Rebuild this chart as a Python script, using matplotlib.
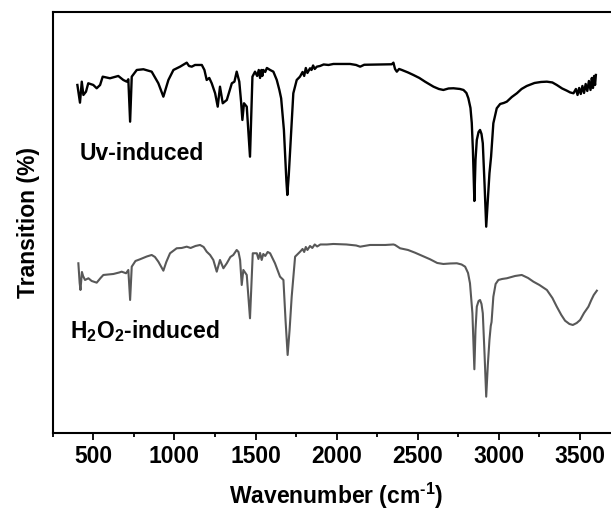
import matplotlib
matplotlib.use("Agg")
import matplotlib.pyplot as plt
from matplotlib.ticker import MultipleLocator

plt.rcParams['font.family'] = ['Liberation Sans', 'DejaVu Sans']
plt.rcParams['font.weight'] = 'bold'
plt.rcParams['mathtext.fontset'] = 'custom'
plt.rcParams['mathtext.rm'] = 'Liberation Sans:bold'
plt.rcParams['mathtext.it'] = 'Liberation Sans:bold'
plt.rcParams['mathtext.bf'] = 'Liberation Sans:bold'
plt.rcParams['mathtext.default'] = 'regular'

# ---- data: Uv-induced spectrum (wavenumber, transmission a.u.) ----
uv_wn = [402, 408, 418, 429, 439, 455, 469, 500, 521, 542, 558, 603, 654, 685, 706, 716,
         727, 737, 768, 809, 860, 901, 932, 963, 994, 1035, 1076, 1090, 1107, 1127, 1169,
         1185, 1199, 1215, 1230, 1251, 1267, 1281, 1298, 1323, 1354, 1370, 1384, 1400,
         1411, 1419, 1429, 1446, 1466, 1481, 1497, 1510, 1520, 1528, 1536, 1542, 1548,
         1560, 1570, 1590, 1610, 1631, 1647, 1658, 1675, 1690, 1696, 1705, 1717, 1733,
         1754, 1774, 1790, 1800, 1810, 1820, 1836, 1845, 1855, 1865, 1878, 1898, 1920,
         1950, 1980, 2030, 2083, 2120, 2145, 2170, 2206, 2280, 2340, 2350, 2360, 2371,
         2385, 2402, 2440, 2473, 2510, 2545, 2597, 2630, 2658, 2690, 2720, 2760, 2782,
         2800, 2812, 2825, 2833, 2840, 2849, 2856, 2864, 2875, 2884, 2893, 2901, 2912,
         2922, 2932, 2942, 2950, 2952, 2966, 2987, 3008, 3030, 3049, 3080, 3111, 3140,
         3172, 3220, 3260, 3296, 3330, 3357, 3390, 3419, 3440, 3460, 3475, 3485, 3495,
         3505, 3515, 3525, 3535, 3545, 3555, 3565, 3573, 3580, 3587, 3593, 3598]
uv_t = [348.3, 341.6, 330.6, 351.6, 338.3, 341.6, 350.0, 348.3, 345.0, 348.3, 356.6, 355.0,
        357.3, 353.3, 351.6, 354.0, 311.6, 356.6, 363.3, 364.0, 361.6, 350.0, 336.6, 353.3,
        363.3, 366.6, 370.6, 367.3, 366.6, 368.3, 368.3, 363.3, 353.3, 355.3, 350.0, 340.0,
        326.6, 346.6, 330.0, 333.3, 350.0, 351.6, 361.6, 351.6, 331.6, 313.3, 330.0, 326.6,
        276.6, 356.6, 361.6, 357.3, 363.3, 355.3, 363.3, 357.3, 363.3, 361.3, 365.3, 363.3,
        361.6, 353.3, 343.3, 335.0, 303.3, 253.3, 238.3, 258.3, 293.3, 340.0, 353.3, 356.6,
        361.3, 357.3, 365.3, 360.3, 365.0, 363.3, 367.8, 364.3, 366.6, 367.3, 368.8, 368.3,
        369.3, 369.3, 369.3, 368.3, 366.6, 368.5, 368.6, 368.8, 369.0, 370.6, 364.3, 361.6,
        364.3, 363.3, 360.8, 358.3, 355.3, 351.6, 346.6, 344.3, 343.3, 344.8, 345.0, 344.3,
        343.3, 340.3, 335.0, 325.3, 310.3, 283.3, 232.3, 273.3, 293.3, 301.3, 303.3, 299.3,
        290.0, 248.3, 206.6, 233.3, 260.0, 273.3, 276.6, 310.0, 325.0, 329.3, 330.3, 331.6,
        336.3, 340.0, 344.3, 347.3, 350.3, 351.3, 351.6, 350.8, 348.3, 344.8, 342.6, 340.8,
        340.0, 344.3, 338.3, 345.3, 339.3, 347.3, 340.3, 349.3, 342.3, 352.3, 343.3, 355.3,
        345.3, 357.3, 348.3, 358.3]

# ---- data: H2O2-induced spectrum ----
h2o2_wn = [408, 416, 421, 430, 437, 449, 470, 490, 521, 545, 562, 590, 624, 660, 675, 702,
           716, 727, 737, 760, 788, 830, 860, 880, 901, 932, 950, 973, 1014, 1045, 1076,
           1100, 1130, 1158, 1180, 1199, 1220, 1240, 1261, 1281, 1302, 1323, 1345, 1363,
           1384, 1395, 1405, 1415, 1425, 1446, 1466, 1483, 1508, 1518, 1528, 1538, 1548,
           1560, 1575, 1590, 1620, 1651, 1672, 1685, 1698, 1710, 1723, 1744, 1775, 1790,
           1800, 1810, 1820, 1836, 1850, 1865, 1880, 1900, 1940, 1980, 2060, 2120, 2145,
           2206, 2300, 2350, 2360, 2391, 2440, 2483, 2530, 2576, 2620, 2658, 2700, 2741,
           2770, 2792, 2810, 2822, 2837, 2849, 2856, 2864, 2875, 2884, 2893, 2901, 2912,
           2922, 2932, 2942, 2950, 2955, 2966, 2980, 2997, 3020, 3049, 3100, 3141, 3180,
           3213, 3250, 3296, 3330, 3357, 3385, 3408, 3435, 3456, 3480, 3501, 3525, 3552,
           3570, 3585, 3604]
h2o2_t = [170.0, 150.3, 143.3, 161.3, 157.3, 153.3, 155.0, 152.3, 150.6, 155.3, 158.3, 158.8,
          159.3, 160.8, 161.6, 160.0, 163.3, 133.3, 166.6, 172.3, 174.0, 176.8, 178.3, 176.3,
          171.6, 162.6, 171.3, 180.0, 185.0, 185.3, 186.6, 185.3, 187.3, 188.3, 186.3, 181.6,
          178.3, 173.3, 161.6, 173.3, 165.0, 170.0, 176.3, 178.3, 183.3, 181.3, 173.3, 148.3,
          163.3, 158.3, 115.0, 180.0, 180.0, 174.3, 180.3, 173.3, 179.3, 177.3, 181.3, 180.0,
          170.0, 156.6, 153.3, 113.3, 78.3, 103.3, 136.6, 176.6, 181.6, 184.3, 181.3, 186.3,
          183.3, 187.3, 185.3, 188.8, 186.8, 188.8, 188.8, 189.3, 188.8, 187.8, 186.6, 188.3,
          188.3, 188.8, 188.3, 185.0, 183.3, 180.6, 177.3, 174.0, 170.3, 169.3, 169.8, 170.0,
          168.8, 166.6, 160.3, 150.0, 120.0, 64.0, 103.3, 126.6, 132.3, 133.3, 129.3, 120.0,
          78.3, 36.6, 68.3, 93.3, 107.3, 111.3, 136.6, 149.3, 153.3, 154.3, 155.0, 157.3,
          158.3, 155.3, 151.6, 148.3, 143.3, 135.3, 126.6, 118.3, 112.6, 109.3, 108.3, 110.3,
          113.3, 120.3, 126.6, 133.3, 138.3, 142.6]

labels = ["Uv-induced", "H$_2$O$_2$-induced"]
label_pos = [(418, 273.3), (357, 95.0)]
xticks = [500, 1000, 1500, 2000, 2500, 3000, 3500]

fig = plt.figure(figsize=(6.11, 5.13), dpi=100)
ax = fig.add_axes([0.0863, 0.1554, 0.9293, 0.8203])

ax.plot(uv_wn, uv_t, color='black', lw=1.7, solid_joinstyle='round')
ax.plot(h2o2_wn, h2o2_t, color='#585858', lw=1.5, solid_joinstyle='round')

for txt, (x, y) in zip(labels, label_pos):
    ax.text(x, y, txt, fontsize=16.5, fontweight='bold', ha='left', va='baseline')

ax.set_xlim(250, 3750)
ax.set_ylim(0, 420.8)
ax.set_xticks(xticks)
ax.xaxis.set_minor_locator(MultipleLocator(250))
ax.set_yticks([])
for s in ax.spines.values():
    s.set_linewidth(1.5)
ax.tick_params(axis='x', which='major', direction='out', length=5, width=1.3,
               labelsize=16.5, pad=3.5)
ax.tick_params(axis='x', which='minor', direction='out', length=3, width=1.3)
for lab in ax.get_xticklabels():
    lab.set_fontweight('bold')

ax.set_xlabel(r"Wavenumber (cm$^{\text{-}1}$)", fontsize=16.5, fontweight='bold', labelpad=9)
ax.set_ylabel("Transition (%)", fontsize=16.5, fontweight='bold', labelpad=9)

fig.savefig("out.png", dpi=100)
